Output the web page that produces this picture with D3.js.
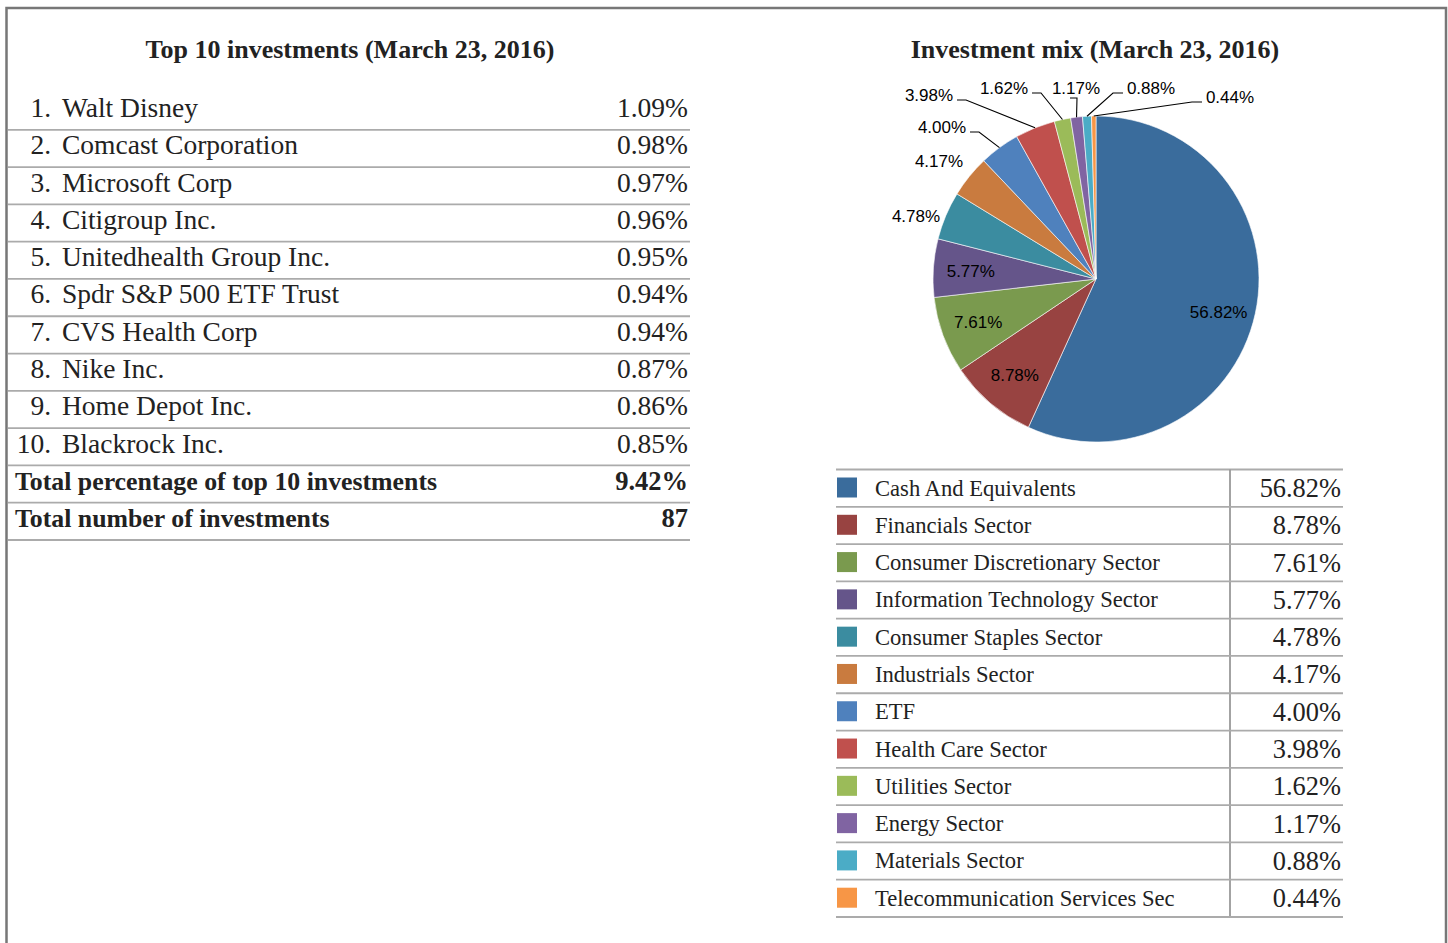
<!DOCTYPE html>
<html>
<head>
<meta charset="utf-8">
<script src="https://cdn.jsdelivr.net/npm/d3@7"></script>
<style>
  body { margin: 0; background: #fff; }
  svg { display: block; }
</style>
</head>
<body>
<div id="chart"></div>
<script>
// top 10 holdings table
const holdingNames = ["Walt Disney", "Comcast Corporation", "Microsoft Corp", "Citigroup Inc.",
  "Unitedhealth Group Inc.", "Spdr S&P 500 ETF Trust", "CVS Health Corp", "Nike Inc.",
  "Home Depot Inc.", "Blackrock Inc."];
const holdingPct = ["1.09%", "0.98%", "0.97%", "0.96%", "0.95%", "0.94%", "0.94%", "0.87%", "0.86%", "0.85%"];
const totalLabels = ["Total percentage of top 10 investments", "Total number of investments"];
const totalValues = ["9.42%", "87"];

// investment mix
const sectors = ["Cash And Equivalents", "Financials Sector", "Consumer Discretionary Sector",
  "Information Technology Sector", "Consumer Staples Sector", "Industrials Sector", "ETF",
  "Health Care Sector", "Utilities Sector", "Energy Sector", "Materials Sector",
  "Telecommunication Services Sec"];
const sectorPct = [56.82, 8.78, 7.61, 5.77, 4.78, 4.17, 4.00, 3.98, 1.62, 1.17, 0.88, 0.44];
const sectorColors = ["#3a6c9c", "#984341", "#7a9a4e", "#65558a", "#3b8ca0", "#c97b3f",
  "#4f81bd", "#c0504d", "#9bbb59", "#8064a2", "#4bacc6", "#f79646"];

// where the small slice labels sit (Excel moved them off the pie)
const outsideLabelSpots = {
  4: { x: 916, y: 216, leader: false },
  5: { x: 939, y: 161, leader: false },
  6: { x: 942, y: 127, leader: true },
  7: { x: 929, y: 95, leader: true },
  8: { x: 1004, y: 88, leader: true },
  9: { x: 1076, y: 88, leader: true, below: true },
  10: { x: 1151, y: 88, leader: true },
  11: { x: 1230, y: 97, leader: true }
};

const W = 1448, H = 943;
const serif = "'Liberation Serif', 'Times New Roman', serif";
const sans = "'Liberation Sans', Arial, sans-serif";
const lineColor = "#ababab";

const svg = d3.select("#chart").append("svg")
  .attr("width", W)
  .attr("height", H);

// frame
svg.append("path")
  .attr("d", `M6.5,${H + 5}V8H1446V${H + 5}`)
  .attr("fill", "none")
  .attr("stroke", "#777")
  .attr("stroke-width", 2.5);

// ---------- left table ----------
const leftRows = holdingNames.map((n, i) => ({ num: (i + 1) + ".", name: n, value: holdingPct[i], bold: false }))
  .concat(totalLabels.map((t, i) => ({ num: null, name: t, value: totalValues[i], bold: true })));

const yLeft = d3.scaleBand()
  .domain(d3.range(leftRows.length))
  .range([92.5, 540]);

svg.append("text")
  .attr("x", 350)
  .attr("y", 58)
  .attr("text-anchor", "middle")
  .attr("font-family", serif)
  .attr("font-weight", "bold")
  .attr("font-size", 26)
  .attr("fill", "#222")
  .text("Top 10 investments (March 23, 2016)");

const lr = svg.append("g").selectAll("g")
  .data(leftRows)
  .join("g")
  .attr("transform", (d, i) => `translate(0,${yLeft(i)})`);

lr.append("line")
  .attr("x1", 8).attr("x2", 690)
  .attr("y1", yLeft.bandwidth()).attr("y2", yLeft.bandwidth())
  .attr("stroke", lineColor)
  .attr("stroke-width", 1.8);

lr.filter(d => d.num)
  .append("text")
  .attr("x", 51)
  .attr("y", 24.5)
  .attr("text-anchor", "end")
  .attr("font-family", serif)
  .attr("font-size", 27.5)
  .attr("fill", "#222")
  .text(d => d.num);

lr.append("text")
  .attr("x", d => d.num ? 62 : 15)
  .attr("y", 24.5)
  .attr("font-family", serif)
  .attr("font-size", d => d.bold ? 25.8 : 27.5)
  .attr("font-weight", d => d.bold ? "bold" : "normal")
  .attr("fill", "#222")
  .text(d => d.name);

lr.append("text")
  .attr("x", 688)
  .attr("y", 24.5)
  .attr("text-anchor", "end")
  .attr("font-family", serif)
  .attr("font-size", d => d.bold ? 26.5 : 27.5)
  .attr("font-weight", d => d.bold ? "bold" : "normal")
  .attr("fill", "#222")
  .text(d => d.value);

// ---------- pie ----------
svg.append("text")
  .attr("x", 1095)
  .attr("y", 58)
  .attr("text-anchor", "middle")
  .attr("font-family", serif)
  .attr("font-weight", "bold")
  .attr("font-size", 26)
  .attr("fill", "#222")
  .text("Investment mix (March 23, 2016)");

const cx = 1096, cy = 279, R = 163;
const mix = sectors.map((s, i) => ({ name: s, value: sectorPct[i], color: sectorColors[i], idx: i }));

const pie = d3.pie().sort(null).value(d => d.value);
const arcs = pie(mix);
const arc = d3.arc().innerRadius(0).outerRadius(R);
const color = d3.scaleOrdinal().domain(sectors).range(sectorColors);

const pg = svg.append("g").attr("transform", `translate(${cx},${cy})`);

pg.selectAll("path.slice")
  .data(arcs)
  .join("path")
  .attr("class", "slice")
  .attr("d", arc)
  .attr("fill", d => color(d.data.name))
  .attr("stroke", "#fff")
  .attr("stroke-width", 0.6);

// labels inside the big slices
const inner = d3.arc().innerRadius(R * 0.77).outerRadius(R * 0.77);
pg.selectAll("text.inlab")
  .data(arcs.filter(d => !outsideLabelSpots[d.index]))
  .join("text")
  .attr("class", "inlab")
  .attr("transform", d => `translate(${inner.centroid(d)})`)
  .attr("text-anchor", "middle")
  .attr("dy", d => d.index === 0 ? "0.75em" : "0.36em")
  .attr("font-family", sans)
  .attr("font-size", 17)
  .attr("fill", "#000")
  .text(d => d.data.value.toFixed(2) + "%");

// labels outside the small slices, with leader lines
const outs = arcs.filter(d => outsideLabelSpots[d.index]);
const edgePoint = d => {
  const a = (d.startAngle + d.endAngle) / 2;
  return [cx + R * Math.sin(a), cy - R * Math.cos(a)];
};

svg.append("g").selectAll("path.leader")
  .data(outs.filter(d => outsideLabelSpots[d.index].leader))
  .join("path")
  .attr("class", "leader")
  .attr("fill", "none")
  .attr("stroke", "#000")
  .attr("stroke-width", 1.1)
  .attr("d", d => {
    const s = outsideLabelSpots[d.index];
    const [px, py] = edgePoint(d);
    const halfW = 25;
    if (s.below) {
      const ly = s.y + 10;
      return `M${s.x - 6},${ly}H${s.x + 1}L${px},${py}`;
    }
    if (s.x < px - 40) {
      const lx = s.x + halfW + 3, ly = s.y + 5;
      return `M${lx},${ly}H${lx + 9}L${px},${py}`;
    }
    const lx = s.x - halfW - 3, ly = s.y + 5;
    return `M${lx},${ly}H${lx - 10}L${px},${py}`;
  });

svg.append("g").selectAll("text.outlab")
  .data(outs)
  .join("text")
  .attr("class", "outlab")
  .attr("x", d => outsideLabelSpots[d.index].x)
  .attr("y", d => outsideLabelSpots[d.index].y)
  .attr("text-anchor", "middle")
  .attr("dy", "0.36em")
  .attr("font-family", sans)
  .attr("font-size", 17)
  .attr("fill", "#000")
  .text(d => d.data.value.toFixed(2) + "%");

// ---------- legend table ----------
const yLeg = d3.scaleBand()
  .domain(d3.range(mix.length))
  .range([469.5, 917]);

svg.append("line")
  .attr("x1", 836).attr("x2", 1343)
  .attr("y1", 469.5).attr("y2", 469.5)
  .attr("stroke", lineColor)
  .attr("stroke-width", 1.8);

svg.append("line")
  .attr("x1", 1230).attr("x2", 1230)
  .attr("y1", 469.5).attr("y2", 917)
  .attr("stroke", "#999")
  .attr("stroke-width", 1.8);

const lg = svg.append("g").selectAll("g")
  .data(mix)
  .join("g")
  .attr("transform", (d, i) => `translate(0,${yLeg(i)})`);

lg.append("line")
  .attr("x1", 836).attr("x2", 1343)
  .attr("y1", yLeg.bandwidth()).attr("y2", yLeg.bandwidth())
  .attr("stroke", lineColor)
  .attr("stroke-width", 1.8);

lg.append("rect")
  .attr("x", 837)
  .attr("y", 8)
  .attr("width", 20)
  .attr("height", 20)
  .attr("fill", d => color(d.name));

lg.append("text")
  .attr("x", 875)
  .attr("y", 26)
  .attr("font-family", serif)
  .attr("font-size", 22.6)
  .attr("fill", "#222")
  .text(d => d.name);

lg.append("text")
  .attr("x", 1341)
  .attr("y", 27.5)
  .attr("text-anchor", "end")
  .attr("font-family", serif)
  .attr("font-size", 26.4)
  .attr("fill", "#222")
  .text(d => d.value.toFixed(2) + "%");
</script>
</body>
</html>
